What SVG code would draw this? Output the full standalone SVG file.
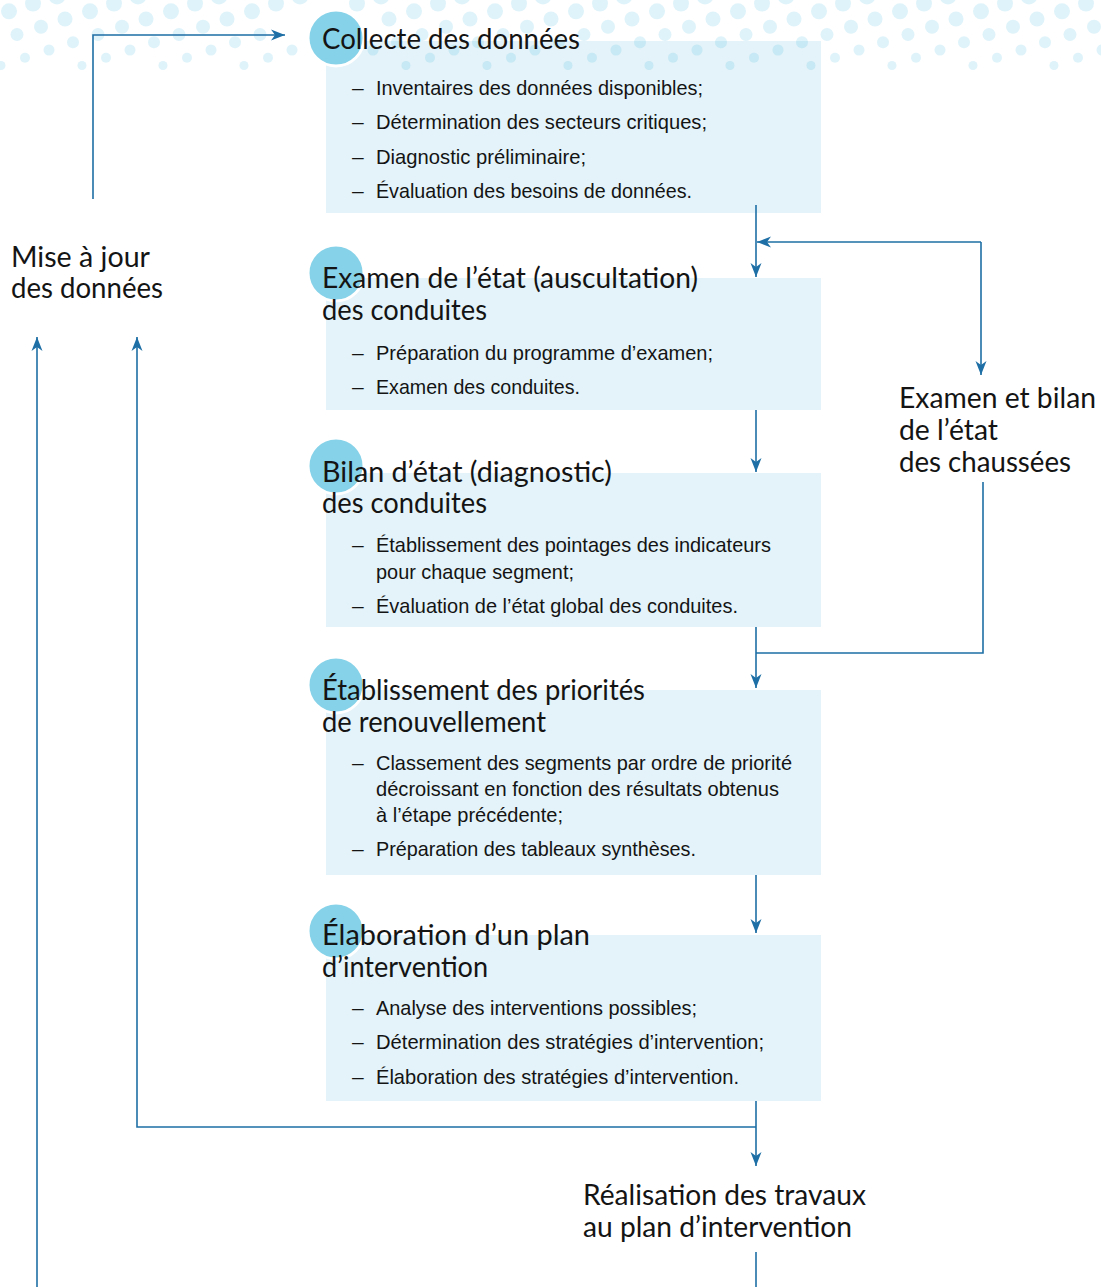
<svg xmlns="http://www.w3.org/2000/svg" width="1101" height="1287" viewBox="0 0 1101 1287">
<style>
.box{fill:#e3f3f9}
.dot{fill:#29afde;fill-opacity:0.15}
.badge{fill:#86d2e8;stroke:#ffffff;stroke-width:3}
.title{font-family:Lato,'Open Sans','DejaVu Sans',sans-serif;font-size:28px;fill:#141414}
.body{font-family:'Liberation Sans',Arial,sans-serif;font-size:21px;fill:#141414}
.conn{fill:none;stroke:#1e6fa5;stroke-width:1.6}
</style>
<defs>
<marker id="ah" viewBox="-15 -7 16 14" refX="0" refY="0" markerWidth="16" markerHeight="14" markerUnits="userSpaceOnUse" orient="auto">
<path d="M0,0 L-14,-5.5 L-10,0 L-14,5.5 Z" fill="#1e6fa5"/>
</marker>
</defs>
<rect width="1101" height="1287" fill="#ffffff"/>

<g id="n-collecte-box"><rect class="box" x="326" y="41" width="495" height="172"/></g>

<g id="dots">
<g transform="translate(0,-4)"><circle class="dot" cx="57" cy="0" r="8.5"/><circle class="dot" cx="138" cy="0" r="8.5"/><circle class="dot" cx="219" cy="0" r="8.5"/><circle class="dot" cx="300" cy="0" r="8.5"/><circle class="dot" cx="381" cy="0" r="8.5"/><circle class="dot" cx="462" cy="0" r="8.5"/><circle class="dot" cx="543" cy="0" r="8.5"/><circle class="dot" cx="624" cy="0" r="8.5"/><circle class="dot" cx="705" cy="0" r="8.5"/><circle class="dot" cx="786" cy="0" r="8.5"/><circle class="dot" cx="867" cy="0" r="8.5"/><circle class="dot" cx="948" cy="0" r="8.5"/><circle class="dot" cx="1029" cy="0" r="8.5"/></g>
<g transform="translate(0,3.5)"><circle class="dot" cx="33" cy="0" r="8"/><circle class="dot" cx="114" cy="0" r="8"/><circle class="dot" cx="195" cy="0" r="8"/><circle class="dot" cx="276" cy="0" r="8"/><circle class="dot" cx="357" cy="0" r="8"/><circle class="dot" cx="438" cy="0" r="8"/><circle class="dot" cx="519" cy="0" r="8"/><circle class="dot" cx="600" cy="0" r="8"/><circle class="dot" cx="681" cy="0" r="8"/><circle class="dot" cx="762" cy="0" r="8"/><circle class="dot" cx="843" cy="0" r="8"/><circle class="dot" cx="924" cy="0" r="8"/><circle class="dot" cx="1005" cy="0" r="8"/><circle class="dot" cx="1086" cy="0" r="8"/></g>
<g transform="translate(0,11.3)"><circle class="dot" cx="9" cy="0" r="8"/><circle class="dot" cx="90" cy="0" r="8"/><circle class="dot" cx="171" cy="0" r="8"/><circle class="dot" cx="252" cy="0" r="8"/><circle class="dot" cx="414" cy="0" r="8"/><circle class="dot" cx="495" cy="0" r="8"/><circle class="dot" cx="576" cy="0" r="8"/><circle class="dot" cx="657" cy="0" r="8"/><circle class="dot" cx="738" cy="0" r="8"/><circle class="dot" cx="819" cy="0" r="8"/><circle class="dot" cx="900" cy="0" r="8"/><circle class="dot" cx="981" cy="0" r="8"/><circle class="dot" cx="1062" cy="0" r="8"/></g>
<g transform="translate(0,19)"><circle class="dot" cx="65" cy="0" r="7.5"/><circle class="dot" cx="146" cy="0" r="7.5"/><circle class="dot" cx="227" cy="0" r="7.5"/><circle class="dot" cx="389" cy="0" r="7.5"/><circle class="dot" cx="470" cy="0" r="7.5"/><circle class="dot" cx="551" cy="0" r="7.5"/><circle class="dot" cx="632" cy="0" r="7.5"/><circle class="dot" cx="713" cy="0" r="7.5"/><circle class="dot" cx="794" cy="0" r="7.5"/><circle class="dot" cx="875" cy="0" r="7.5"/><circle class="dot" cx="956" cy="0" r="7.5"/><circle class="dot" cx="1037" cy="0" r="7.5"/></g>
<g transform="translate(0,26.8)"><circle class="dot" cx="41" cy="0" r="7"/><circle class="dot" cx="122" cy="0" r="7"/><circle class="dot" cx="203" cy="0" r="7"/><circle class="dot" cx="446" cy="0" r="7"/><circle class="dot" cx="527" cy="0" r="7"/><circle class="dot" cx="608" cy="0" r="7"/><circle class="dot" cx="689" cy="0" r="7"/><circle class="dot" cx="770" cy="0" r="7"/><circle class="dot" cx="851" cy="0" r="7"/><circle class="dot" cx="932" cy="0" r="7"/><circle class="dot" cx="1013" cy="0" r="7"/><circle class="dot" cx="1094" cy="0" r="7"/></g>
<g transform="translate(0,34.5)"><circle class="dot" cx="17" cy="0" r="6.5"/><circle class="dot" cx="98" cy="0" r="6.5"/><circle class="dot" cx="179" cy="0" r="6.5"/><circle class="dot" cx="260" cy="0" r="6.5"/><circle class="dot" cx="422" cy="0" r="6.5"/><circle class="dot" cx="503" cy="0" r="6.5"/><circle class="dot" cx="584" cy="0" r="6.5"/><circle class="dot" cx="665" cy="0" r="6.5"/><circle class="dot" cx="746" cy="0" r="6.5"/><circle class="dot" cx="827" cy="0" r="6.5"/><circle class="dot" cx="908" cy="0" r="6.5"/><circle class="dot" cx="989" cy="0" r="6.5"/><circle class="dot" cx="1070" cy="0" r="6.5"/></g>
<g transform="translate(0,42.3)"><circle class="dot" cx="-8" cy="0" r="6"/><circle class="dot" cx="73" cy="0" r="6"/><circle class="dot" cx="154" cy="0" r="6"/><circle class="dot" cx="235" cy="0" r="6"/><circle class="dot" cx="397" cy="0" r="6"/><circle class="dot" cx="478" cy="0" r="6"/><circle class="dot" cx="559" cy="0" r="6"/><circle class="dot" cx="640" cy="0" r="6"/><circle class="dot" cx="721" cy="0" r="6"/><circle class="dot" cx="802" cy="0" r="6"/><circle class="dot" cx="883" cy="0" r="6"/><circle class="dot" cx="964" cy="0" r="6"/><circle class="dot" cx="1045" cy="0" r="6"/></g>
<g transform="translate(0,50)"><circle class="dot" cx="49" cy="0" r="5.5"/><circle class="dot" cx="130" cy="0" r="5.5"/><circle class="dot" cx="211" cy="0" r="5.5"/><circle class="dot" cx="292" cy="0" r="5.5"/><circle class="dot" cx="373" cy="0" r="5.5"/><circle class="dot" cx="454" cy="0" r="5.5"/><circle class="dot" cx="535" cy="0" r="5.5"/><circle class="dot" cx="616" cy="0" r="5.5"/><circle class="dot" cx="697" cy="0" r="5.5"/><circle class="dot" cx="778" cy="0" r="5.5"/><circle class="dot" cx="859" cy="0" r="5.5"/><circle class="dot" cx="940" cy="0" r="5.5"/><circle class="dot" cx="1021" cy="0" r="5.5"/><circle class="dot" cx="1102" cy="0" r="5.5"/></g>
<g transform="translate(0,57.8)"><circle class="dot" cx="25" cy="0" r="5"/><circle class="dot" cx="106" cy="0" r="5"/><circle class="dot" cx="187" cy="0" r="5"/><circle class="dot" cx="268" cy="0" r="5"/><circle class="dot" cx="430" cy="0" r="5"/><circle class="dot" cx="511" cy="0" r="5"/><circle class="dot" cx="592" cy="0" r="5"/><circle class="dot" cx="673" cy="0" r="5"/><circle class="dot" cx="754" cy="0" r="5"/><circle class="dot" cx="835" cy="0" r="5"/><circle class="dot" cx="916" cy="0" r="5"/><circle class="dot" cx="997" cy="0" r="5"/><circle class="dot" cx="1078" cy="0" r="5"/></g>
<g transform="translate(0,65.5)"><circle class="dot" cx="1" cy="0" r="4.5"/><circle class="dot" cx="82" cy="0" r="4.5"/><circle class="dot" cx="163" cy="0" r="4.5"/><circle class="dot" cx="244" cy="0" r="4.5"/><circle class="dot" cx="406" cy="0" r="4.5"/><circle class="dot" cx="487" cy="0" r="4.5"/><circle class="dot" cx="568" cy="0" r="4.5"/><circle class="dot" cx="649" cy="0" r="4.5"/><circle class="dot" cx="730" cy="0" r="4.5"/><circle class="dot" cx="811" cy="0" r="4.5"/><circle class="dot" cx="892" cy="0" r="4.5"/><circle class="dot" cx="973" cy="0" r="4.5"/><circle class="dot" cx="1054" cy="0" r="4.5"/></g>
</g>

<g id="connectors">
<path class="conn" d="M93,199 V35 H285" marker-end="url(#ah)"/>
<path class="conn" d="M756,205 V277" marker-end="url(#ah)"/>
<path class="conn" d="M981,242 H757" marker-end="url(#ah)"/>
<path class="conn" d="M981,242 V375" marker-end="url(#ah)"/>
<path class="conn" d="M983,482 V653 H756"/>
<path class="conn" d="M756,400 V472" marker-end="url(#ah)"/>
<path class="conn" d="M756,617 V688" marker-end="url(#ah)"/>
<path class="conn" d="M756,863 V933" marker-end="url(#ah)"/>
<path class="conn" d="M756,1095 V1166" marker-end="url(#ah)"/>
<path class="conn" d="M756,1127 H137 V337" marker-end="url(#ah)"/>
<path class="conn" d="M37,1287 V337" marker-end="url(#ah)"/>
<path class="conn" d="M756,1252 V1287"/>
</g>

<g id="n-collecte">
<circle class="badge" cx="336" cy="38" r="28"/>
<text class="title" x="322" y="49" textLength="258" lengthAdjust="spacingAndGlyphs">Collecte des données</text>
<text class="body" x="352" y="95">–</text><text class="body" x="376" y="95" textLength="327" lengthAdjust="spacingAndGlyphs">Inventaires des données disponibles;</text>
<text class="body" x="352" y="129">–</text><text class="body" x="376" y="129" textLength="331" lengthAdjust="spacingAndGlyphs">Détermination des secteurs critiques;</text>
<text class="body" x="352" y="164">–</text><text class="body" x="376" y="164" textLength="210" lengthAdjust="spacingAndGlyphs">Diagnostic préliminaire;</text>
<text class="body" x="352" y="198">–</text><text class="body" x="376" y="198" textLength="316" lengthAdjust="spacingAndGlyphs">Évaluation des besoins de données.</text>
</g>

<g id="n-examen">
<rect class="box" x="326" y="278" width="495" height="132"/>
<circle class="badge" cx="336" cy="273" r="28"/>
<text class="title" x="322" y="288" textLength="376" lengthAdjust="spacingAndGlyphs">Examen de l’état (auscultation)</text>
<text class="title" x="322" y="320" textLength="165" lengthAdjust="spacingAndGlyphs">des conduites</text>
<text class="body" x="352" y="360">–</text><text class="body" x="376" y="360" textLength="337" lengthAdjust="spacingAndGlyphs">Préparation du programme d’examen;</text>
<text class="body" x="352" y="394">–</text><text class="body" x="376" y="394" textLength="204" lengthAdjust="spacingAndGlyphs">Examen des conduites.</text>
</g>

<g id="n-bilan">
<rect class="box" x="326" y="473" width="495" height="154"/>
<circle class="badge" cx="336" cy="466" r="28"/>
<text class="title" x="322" y="482" textLength="290" lengthAdjust="spacingAndGlyphs">Bilan d’état (diagnostic)</text>
<text class="title" x="322" y="513" textLength="165" lengthAdjust="spacingAndGlyphs">des conduites</text>
<text class="body" x="352" y="552">–</text><text class="body" x="376" y="552" textLength="395" lengthAdjust="spacingAndGlyphs">Établissement des pointages des indicateurs</text>
<text class="body" x="376" y="579" textLength="198" lengthAdjust="spacingAndGlyphs">pour chaque segment;</text>
<text class="body" x="352" y="613">–</text><text class="body" x="376" y="613" textLength="362" lengthAdjust="spacingAndGlyphs">Évaluation de l’état global des conduites.</text>
</g>

<g id="n-priorites">
<rect class="box" x="326" y="690" width="495" height="185"/>
<circle class="badge" cx="336" cy="685" r="28"/>
<text class="title" x="322" y="700" textLength="323" lengthAdjust="spacingAndGlyphs">Établissement des priorités</text>
<text class="title" x="322" y="732" textLength="224" lengthAdjust="spacingAndGlyphs">de renouvellement</text>
<text class="body" x="352" y="770">–</text><text class="body" x="376" y="770" textLength="416" lengthAdjust="spacingAndGlyphs">Classement des segments par ordre de priorité</text>
<text class="body" x="376" y="796" textLength="403" lengthAdjust="spacingAndGlyphs">décroissant en fonction des résultats obtenus</text>
<text class="body" x="376" y="822" textLength="187" lengthAdjust="spacingAndGlyphs">à l’étape précédente;</text>
<text class="body" x="352" y="856">–</text><text class="body" x="376" y="856" textLength="320" lengthAdjust="spacingAndGlyphs">Préparation des tableaux synthèses.</text>
</g>

<g id="n-plan">
<rect class="box" x="326" y="935" width="495" height="166"/>
<circle class="badge" cx="336" cy="931" r="28"/>
<text class="title" x="322" y="945" textLength="268" lengthAdjust="spacingAndGlyphs">Élaboration d’un plan</text>
<text class="title" x="322" y="977" textLength="166" lengthAdjust="spacingAndGlyphs">d’intervention</text>
<text class="body" x="352" y="1015">–</text><text class="body" x="376" y="1015" textLength="321" lengthAdjust="spacingAndGlyphs">Analyse des interventions possibles;</text>
<text class="body" x="352" y="1049">–</text><text class="body" x="376" y="1049" textLength="388" lengthAdjust="spacingAndGlyphs">Détermination des stratégies d’intervention;</text>
<text class="body" x="352" y="1084">–</text><text class="body" x="376" y="1084" textLength="363" lengthAdjust="spacingAndGlyphs">Élaboration des stratégies d’intervention.</text>
</g>

<g id="n-miseajour">
<text class="title" x="11" y="267" textLength="139" lengthAdjust="spacingAndGlyphs">Mise à jour</text>
<text class="title" x="11" y="298" textLength="152" lengthAdjust="spacingAndGlyphs">des données</text>
</g>

<g id="n-chaussees">
<text class="title" x="899" y="408" textLength="197" lengthAdjust="spacingAndGlyphs">Examen et bilan</text>
<text class="title" x="899" y="440" textLength="99" lengthAdjust="spacingAndGlyphs">de l’état</text>
<text class="title" x="899" y="472" textLength="172" lengthAdjust="spacingAndGlyphs">des chaussées</text>
</g>

<g id="n-realisation">
<text class="title" x="583" y="1205" textLength="283" lengthAdjust="spacingAndGlyphs">Réalisation des travaux</text>
<text class="title" x="583" y="1237" textLength="269" lengthAdjust="spacingAndGlyphs">au plan d’intervention</text>
</g>
</svg>
